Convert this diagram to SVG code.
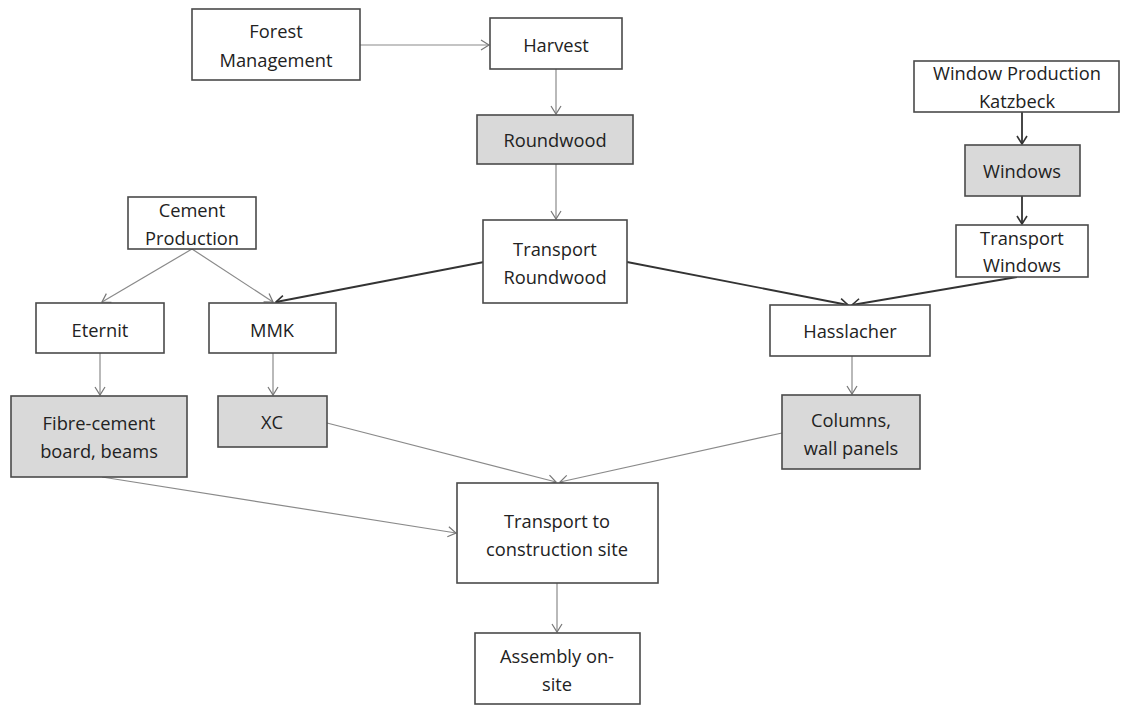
<svg xmlns="http://www.w3.org/2000/svg" width="1125" height="706" viewBox="0 0 1125 706">
<style>
.box{fill:#fff;stroke:#4a4a4a;stroke-width:1.6}
.sh{fill:#d9d9d9;stroke:#4a4a4a;stroke-width:1.6}
text{font-family:"Open Sans","Liberation Sans",sans-serif;font-size:18.3px;fill:#222;text-anchor:middle}
.c{fill:none;stroke:#8a8a8a;stroke-width:1.2}
.d{fill:none;stroke:#333;stroke-width:1.8}
</style>
<defs>
<marker id="a" markerUnits="userSpaceOnUse" markerWidth="14" markerHeight="14" refX="10" refY="6" orient="auto">
<path d="M2,1 L10,6 L2,11" fill="none" stroke="#777" stroke-width="1.2"/>
</marker>
<marker id="ad" markerUnits="userSpaceOnUse" markerWidth="14" markerHeight="14" refX="10" refY="6" orient="auto">
<path d="M2,1 L10,6 L2,11" fill="none" stroke="#333" stroke-width="1.6"/>
</marker>
</defs>
<rect width="1125" height="706" fill="#fff"/>
<g id="connectors">
<line class="c" x1="360" y1="45" x2="489" y2="45" marker-end="url(#a)"/>
<line class="c" x1="556" y1="69" x2="556" y2="114" marker-end="url(#a)"/>
<line class="c" x1="556" y1="164" x2="556" y2="219" marker-end="url(#a)"/>
<line class="d" x1="1022" y1="112" x2="1022" y2="144" marker-end="url(#ad)"/>
<line class="d" x1="1022" y1="196" x2="1022" y2="224" marker-end="url(#ad)"/>
<line class="d" x1="1017" y1="277" x2="852" y2="305" marker-end="url(#ad)"/>
<line class="d" x1="627" y1="262" x2="848" y2="305" marker-end="url(#ad)"/>
<line class="d" x1="484" y1="262" x2="276" y2="302" marker-end="url(#ad)"/>
<line class="c" x1="192" y1="249" x2="102" y2="302" marker-end="url(#a)"/>
<line class="c" x1="192" y1="249" x2="273" y2="302" marker-end="url(#a)"/>
<line class="c" x1="100" y1="353" x2="100" y2="395" marker-end="url(#a)"/>
<line class="c" x1="273" y1="353" x2="273" y2="395" marker-end="url(#a)"/>
<line class="c" x1="852" y1="356" x2="852" y2="394" marker-end="url(#a)"/>
<line class="c" x1="327" y1="423" x2="556" y2="482" marker-end="url(#a)"/>
<line class="c" x1="782" y1="433" x2="560" y2="482" marker-end="url(#a)"/>
<line class="c" x1="102" y1="477" x2="456" y2="533" marker-end="url(#a)"/>
<line class="c" x1="557" y1="583" x2="557" y2="632" marker-end="url(#a)"/>
</g>
<g id="forest-management"><rect class="box" x="192" y="9" width="168" height="71"/><text x="276" y="38">Forest</text><text x="276" y="67">Management</text></g>
<g id="harvest"><rect class="box" x="490" y="18" width="132" height="51"/><text x="556" y="52">Harvest</text></g>
<g id="roundwood"><rect class="sh" x="477" y="115" width="156" height="49"/><text x="555" y="147">Roundwood</text></g>
<g id="window-production"><rect class="box" x="914" y="61" width="205" height="51"/><text x="1017" y="80">Window Production</text><text x="1017" y="108">Katzbeck</text></g>
<g id="windows"><rect class="sh" x="965" y="145" width="115" height="51"/><text x="1022" y="178">Windows</text></g>
<g id="transport-windows"><rect class="box" x="956" y="225" width="132" height="52"/><text x="1022" y="245">Transport</text><text x="1022" y="272">Windows</text></g>
<g id="cement-production"><rect class="box" x="128" y="197" width="128" height="52"/><text x="192" y="217">Cement</text><text x="192" y="245">Production</text></g>
<g id="transport-roundwood"><rect class="box" x="483" y="220" width="144" height="83"/><text x="555" y="256">Transport</text><text x="555" y="284">Roundwood</text></g>
<g id="eternit"><rect class="box" x="36" y="303" width="128" height="50"/><text x="100" y="337">Eternit</text></g>
<g id="mmk"><rect class="box" x="209" y="303" width="127" height="50"/><text x="272" y="337">MMK</text></g>
<g id="hasslacher"><rect class="box" x="770" y="305" width="160" height="51"/><text x="850" y="338">Hasslacher</text></g>
<g id="fibre-cement"><rect class="sh" x="11" y="396" width="176" height="81"/><text x="99" y="430">Fibre-cement</text><text x="99" y="458">board, beams</text></g>
<g id="xc"><rect class="sh" x="218" y="396" width="109" height="51"/><text x="272" y="429">XC</text></g>
<g id="columns"><rect class="sh" x="782" y="395" width="138" height="74"/><text x="851" y="427">Columns,</text><text x="851" y="455">wall panels</text></g>
<g id="transport-site"><rect class="box" x="457" y="483" width="201" height="100"/><text x="557" y="528">Transport to</text><text x="557" y="556">construction site</text></g>
<g id="assembly"><rect class="box" x="475" y="633" width="165" height="71"/><text x="557" y="663">Assembly on-</text><text x="557" y="691">site</text></g>
</svg>
